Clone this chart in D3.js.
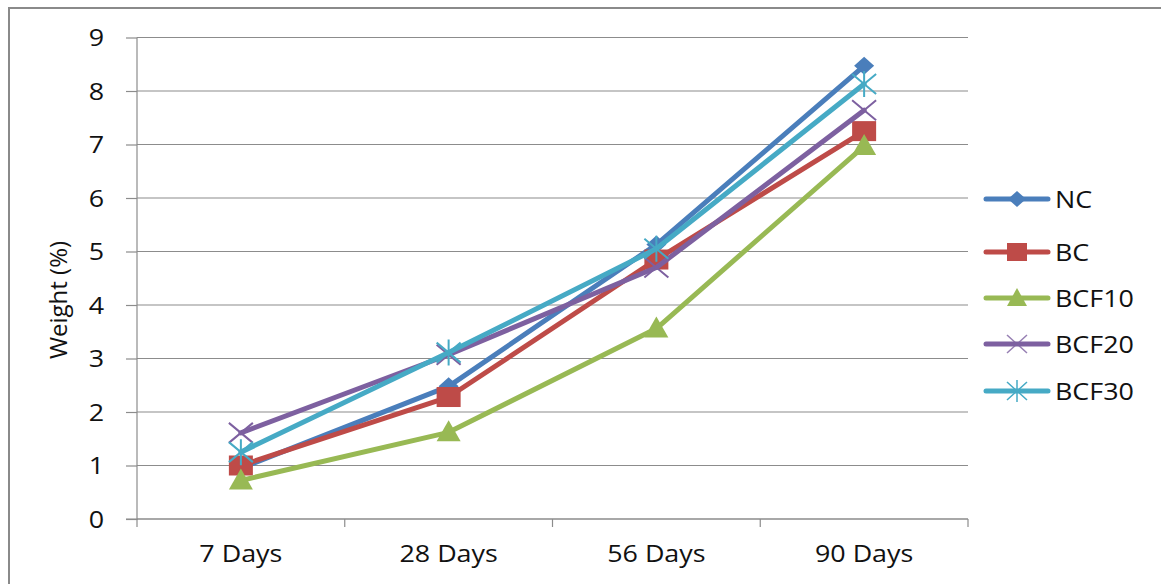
<!DOCTYPE html>
<html>
<head>
<meta charset="utf-8">
<script src="https://cdn.jsdelivr.net/npm/d3@7"></script>
<style>
  html, body { margin: 0; padding: 0; background: #fff; }
  svg { display: block; }
</style>
</head>
<body>
<svg id="chart" width="1161" height="584"></svg>
<script>
// Sampling points
const categories = ["7 Days", "28 Days", "56 Days", "90 Days"];

// Weight (%) per treatment
const NC    = [0.95, 2.48, 5.13, 8.47];
const BC    = [1.00, 2.28, 4.85, 7.25];
const BCF10 = [0.72, 1.62, 3.56, 6.97];
const BCF20 = [1.61, 3.07, 4.70, 7.64];
const BCF30 = [1.25, 3.11, 5.05, 8.13];

const seriesNames = ["NC", "BC", "BCF10", "BCF20", "BCF30"];
const yTicks = [0, 1, 2, 3, 4, 5, 6, 7, 8, 9];

const series = [
  { name: "NC",    values: NC,    color: "#4A7EBB", marker: "diamond" },
  { name: "BC",    values: BC,    color: "#BE4B48", marker: "square" },
  { name: "BCF10", values: BCF10, color: "#98B954", marker: "triangle" },
  { name: "BCF20", values: BCF20, color: "#7D60A0", marker: "x" },
  { name: "BCF30", values: BCF30, color: "#46AAC5", marker: "star" }
];

const FONT = "'Open Sans', sans-serif";
const STRETCH = 1.12;

const svg = d3.select("#chart");

// horizontally widened label
function label(parent, tx, ty, str, anchor) {
  return parent.append("text")
    .attr("transform", `translate(${tx},${ty}) scale(${STRETCH},1)`)
    .attr("text-anchor", anchor)
    .attr("font-family", FONT)
    .attr("font-size", 24)
    .attr("fill", "#111")
    .text(str);
}

// outer frame
svg.append("path")
  .attr("d", "M9,584 V8 H1161")
  .attr("fill", "none")
  .attr("stroke", "#8a8a8a")
  .attr("stroke-width", 2);

const plot = { left: 137, right: 968, top: 37.5, bottom: 519 };

const x = d3.scaleBand().domain(categories).range([plot.left, plot.right]);
const y = d3.scaleLinear().domain([0, 9]).range([plot.bottom, plot.top]);

// horizontal gridlines
svg.append("g")
  .selectAll("line")
  .data(yTicks)
  .join("line")
  .attr("x1", plot.left)
  .attr("x2", plot.right)
  .attr("y1", d => y(d))
  .attr("y2", d => y(d))
  .attr("stroke", "#8c8c8c")
  .attr("stroke-width", 1.2);

// y axis
const yAxis = svg.append("g")
  .attr("transform", `translate(${plot.left},0)`)
  .call(d3.axisLeft(y).tickValues(yTicks).tickSize(11).tickFormat(""));
yAxis.select(".domain").attr("stroke", "#8c8c8c").attr("stroke-width", 1.2)
  .attr("d", `M0,${plot.top}V${plot.bottom + 1}`);
yAxis.selectAll(".tick line").attr("stroke", "#8c8c8c").attr("stroke-width", 1.2);
const yLabels = svg.append("g");
yTicks.forEach(t => {
  label(yLabels, 104, y(t) + 8.5, d3.format("d")(t), "end");
});

// x axis: tick marks between categories
const xAxis = svg.append("g").attr("transform", `translate(0,${plot.bottom})`);
xAxis.append("line")
  .attr("x1", plot.left - 11).attr("x2", plot.right)
  .attr("y1", 0).attr("y2", 0)
  .attr("stroke", "#8c8c8c").attr("stroke-width", 1.2);
const bounds = categories.map(c => x(c)).concat([x(categories[categories.length - 1]) + x.bandwidth()]);
xAxis.selectAll("line.tk")
  .data(bounds)
  .join("line")
  .attr("class", "tk")
  .attr("x1", d => d).attr("x2", d => d)
  .attr("y1", 0).attr("y2", 8)
  .attr("stroke", "#8c8c8c").attr("stroke-width", 1.2);
categories.forEach(c => {
  label(xAxis, x(c) + x.bandwidth() / 2, 43, c, "middle");
});

// y axis title
svg.append("text")
  .attr("transform", `translate(67,300) rotate(-90)`)
  .attr("text-anchor", "middle")
  .attr("font-family", FONT)
  .attr("font-size", 24)
  .attr("fill", "#111")
  .text("Weight  (%)");

// marker drawing
function drawMarker(g, type, color, cx, cy) {
  if (type === "diamond") {
    g.append("path")
      .attr("d", `M${cx},${cy - 9}L${cx + 10},${cy}L${cx},${cy + 9}L${cx - 10},${cy}Z`)
      .attr("fill", color);
  } else if (type === "square") {
    g.append("rect")
      .attr("x", cx - 12).attr("y", cy - 10)
      .attr("width", 24).attr("height", 20)
      .attr("fill", color);
  } else if (type === "triangle") {
    g.append("path")
      .attr("d", `M${cx},${cy - 12}L${cx + 12},${cy + 9}L${cx - 12},${cy + 9}Z`)
      .attr("fill", color);
  } else if (type === "x") {
    g.append("path")
      .attr("d", `M${cx - 12},${cy - 10}L${cx + 12},${cy + 10}M${cx - 12},${cy + 10}L${cx + 12},${cy - 10}`)
      .attr("stroke", color).attr("stroke-width", 2).attr("fill", "none");
  } else if (type === "star") {
    g.append("path")
      .attr("d", `M${cx - 12},${cy - 10}L${cx + 12},${cy + 10}M${cx - 12},${cy + 10}L${cx + 12},${cy - 10}M${cx},${cy - 13}V${cy + 13}`)
      .attr("stroke", color).attr("stroke-width", 2).attr("fill", "none");
  }
}

const line = d3.line()
  .x((d, i) => x(categories[i]) + x.bandwidth() / 2)
  .y(d => y(d));

series.forEach(s => {
  const g = svg.append("g");
  g.append("path")
    .attr("d", line(s.values))
    .attr("fill", "none")
    .attr("stroke", s.color)
    .attr("stroke-width", 5)
    .attr("stroke-linejoin", "round")
    .attr("stroke-linecap", "round");
  s.values.forEach((v, i) => {
    drawMarker(g, s.marker, s.color, x(categories[i]) + x.bandwidth() / 2, y(v));
  });
});

// legend
const legendY = [199, 252, 298, 344, 391];
const legend = svg.append("g");
series.forEach((s, i) => {
  const ly = legendY[i];
  const g = legend.append("g");
  g.append("line")
    .attr("x1", 986).attr("x2", 1048)
    .attr("y1", ly).attr("y2", ly)
    .attr("stroke", s.color).attr("stroke-width", 5)
    .attr("stroke-linecap", "round");
  if (s.marker === "diamond") {
    g.append("path").attr("d", `M1017,${ly - 8}L1026,${ly}L1017,${ly + 8}L1008,${ly}Z`).attr("fill", s.color);
  } else if (s.marker === "square") {
    g.append("rect").attr("x", 1007).attr("y", ly - 9).attr("width", 20).attr("height", 18).attr("fill", s.color);
  } else if (s.marker === "triangle") {
    g.append("path").attr("d", `M1017,${ly - 10}L1027,${ly + 8}L1007,${ly + 8}Z`).attr("fill", s.color);
  } else if (s.marker === "x") {
    g.append("path").attr("d", `M1007,${ly - 9}L1027,${ly + 9}M1007,${ly + 9}L1027,${ly - 9}`)
      .attr("stroke", s.color).attr("stroke-width", 1.5).attr("fill", "none").attr("opacity", 0.8);
  } else if (s.marker === "star") {
    g.append("path").attr("d", `M1007,${ly - 9}L1027,${ly + 9}M1007,${ly + 9}L1027,${ly - 9}M1017,${ly - 11}V${ly + 11}`)
      .attr("stroke", s.color).attr("stroke-width", 1.5).attr("fill", "none");
  }
  label(g, 1055, ly + 8.5, seriesNames[i], "start");
});
</script>
</body>
</html>
